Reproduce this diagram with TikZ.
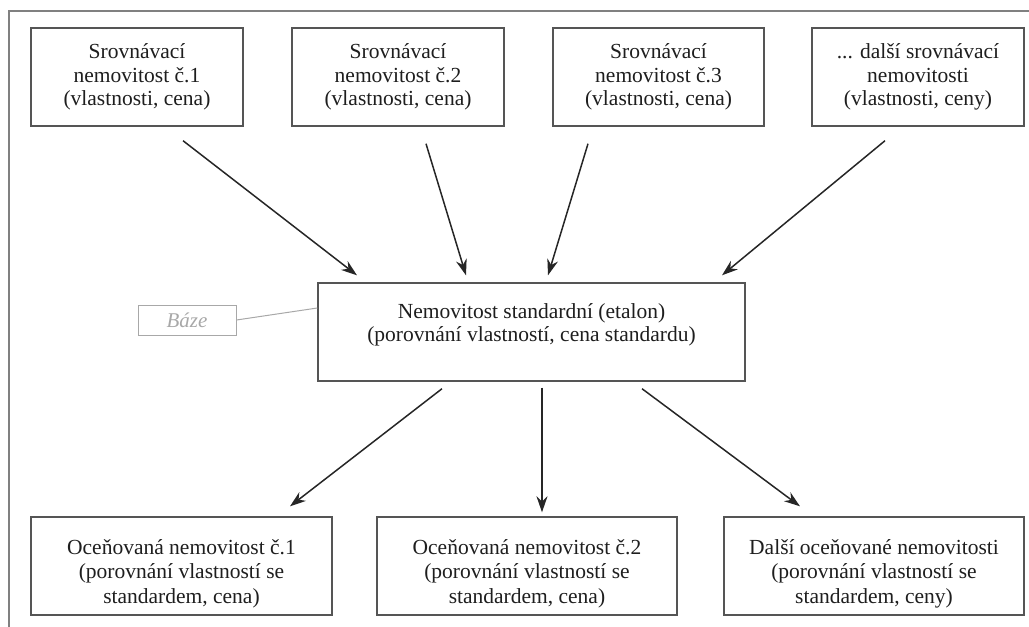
\documentclass[tikz,border=0pt]{standalone}
\usepackage{fontspec}
\setmainfont{Liberation Serif}
\usetikzlibrary{arrows.meta}
\definecolor{boxgray}{HTML}{555555}
\definecolor{arrgray}{HTML}{262626}
\definecolor{lightg}{HTML}{A8A8A8}
\definecolor{txt}{HTML}{1E1E1E}
\newcommand{\upstrut}{\rule{0pt}{30pt}}
\newcommand{\downstrut}{\rule[-19pt]{0pt}{0pt}}
\begin{document}
\begin{tikzpicture}[x=1pt,y=-1pt,
  box/.style={draw=boxgray, line width=1.4pt, align=center, text=txt,
    font=\fontsize{21.5}{23.5}\selectfont, inner sep=0pt, minimum height=98pt},
  lowbox/.style={box, font=\fontsize{21.5}{24.5}\selectfont},
  arr/.style={draw=arrgray, line width=1.5pt, -{Stealth[length=16pt,width=11pt]}},
  bazebox/.style={draw=lightg, line width=1pt, text=lightg,
    font=\fontsize{21}{23.5}\selectfont\itshape, minimum width=98pt, minimum height=30pt, inner sep=0pt}
]
\useasboundingbox (0,0) rectangle (1029,627);
\draw[draw=gray, line width=1.6pt] (1029,11) -- (9,11) -- (9,627);

\node[box, minimum width=212pt] (t1) at (137,77) {Srovnávací\\nemovitost č.1\\(vlastnosti, cena)};
\node[box, minimum width=212pt] (t2) at (398,77) {Srovnávací\\nemovitost č.2\\(vlastnosti, cena)};
\node[box, minimum width=211pt] (t3) at (658.5,77) {Srovnávací\\nemovitost č.3\\(vlastnosti, cena)};
\node[box, minimum width=212pt] (t4) at (918,77) {... další srovnávací\\nemovitosti\\(vlastnosti, ceny)};

\node[box, minimum width=427pt] (c) at (531.5,332) {Nemovitost standardní (etalon)\\(porovnání vlastností, cena standardu)\downstrut};

\node[bazebox] (baze) at (187,320) {Báze};
\draw[draw=lightg, line width=1pt] (baze.east) -- ([yshift=24pt]c.west);

\node[lowbox, minimum width=301pt] (b1) at (181.5,566) {\upstrut Oceňovaná nemovitost č.1\\(porovnání vlastností se\\standardem, cena)};
\node[lowbox, minimum width=300pt] (b2) at (527,566) {\upstrut Oceňovaná nemovitost č.2\\(porovnání vlastností se\\standardem, cena)};
\node[lowbox, minimum width=300pt] (b3) at (874,566) {\upstrut Další oceňované nemovitosti\\(porovnání vlastností se\\standardem, ceny)};

\draw[arr] ([xshift=46pt,yshift=-14pt]t1.south) -- ([xshift=-174.5pt,yshift=7pt]c.north);
\draw[arr] ([xshift=28pt,yshift=-17pt]t2.south) -- ([xshift=-65.5pt,yshift=7pt]c.north);
\draw[arr] ([xshift=-70.5pt,yshift=-17pt]t3.south) -- ([xshift=16.5pt,yshift=7pt]c.north);
\draw[arr] ([xshift=-33pt,yshift=-14pt]t4.south) -- ([xshift=190.5pt,yshift=7pt]c.north);

\draw[arr] ([xshift=-89.5pt,yshift=-7pt]c.south) -- ([xshift=108.5pt,yshift=10pt]b1.north);
\draw[arr] ([xshift=10.5pt,yshift=-6pt]c.south) -- ([xshift=15pt,yshift=4pt]b2.north);
\draw[arr] ([xshift=110.5pt,yshift=-7pt]c.south) -- ([xshift=-74pt,yshift=10pt]b3.north);
\end{tikzpicture}
\end{document}
